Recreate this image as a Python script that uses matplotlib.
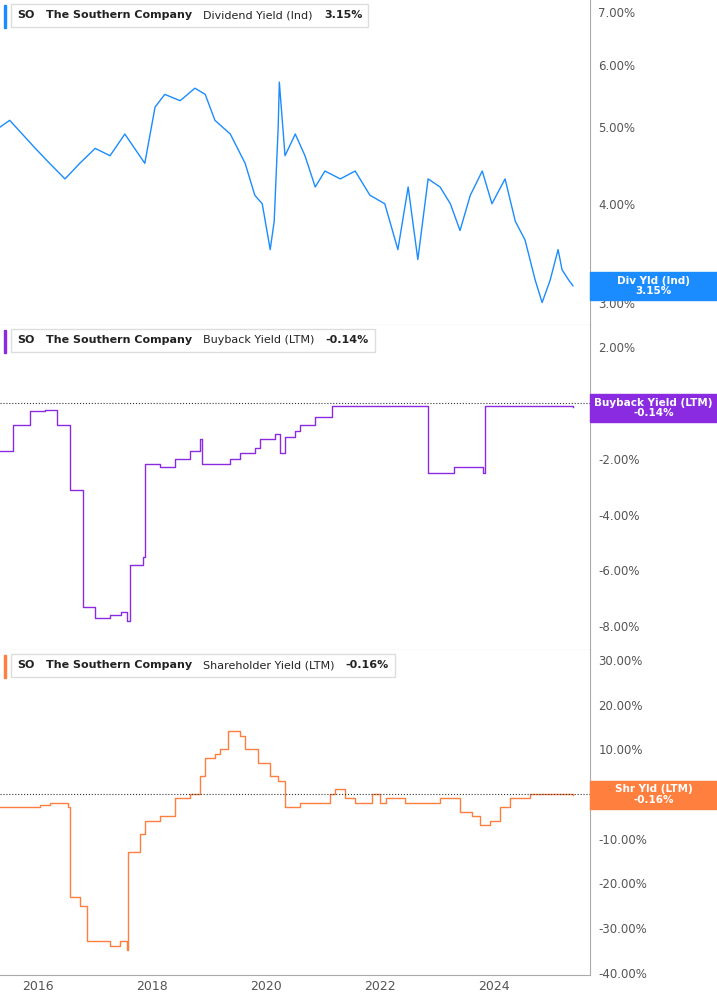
import numpy as np
import matplotlib.pyplot as plt
from matplotlib.offsetbox import TextArea, HPacker, AnchoredOffsetbox
from matplotlib.patches import Rectangle

# x positions read in decimal years
div_t = [2015.33, 2015.5, 2015.95, 2016.2, 2016.47, 2016.73, 2017.0, 2017.26, 2017.52, 2017.87,
         2018.05, 2018.22, 2018.49, 2018.75, 2018.93, 2019.1, 2019.37, 2019.63, 2019.8, 2019.93,
         2020.07, 2020.14, 2020.21, 2020.23, 2020.33, 2020.51, 2020.68, 2020.86, 2021.03, 2021.3,
         2021.56, 2021.82, 2022.08, 2022.31, 2022.49, 2022.66, 2022.84, 2023.05, 2023.23, 2023.4,
         2023.58, 2023.79, 2023.96, 2024.19, 2024.37, 2024.54, 2024.72, 2024.84, 2024.98, 2025.12,
         2025.19, 2025.31, 2025.38]
div_v = [5.0, 5.1, 4.7, 4.5, 4.3, 4.5, 4.7, 4.6, 4.9, 4.5,
         5.3, 5.5, 5.4, 5.6, 5.5, 5.1, 4.9, 4.5, 4.1, 4.0,
         3.5, 3.8, 5.0, 5.7, 4.6, 4.9, 4.6, 4.2, 4.4, 4.3,
         4.4, 4.1, 4.0, 3.5, 4.2, 3.4, 4.3, 4.2, 4.0, 3.7,
         4.1, 4.4, 4.0, 4.3, 3.8, 3.6, 3.2, 3.0, 3.2, 3.5,
         3.3, 3.2, 3.15]

bb_t = [2015.33, 2015.56, 2015.86, 2016.12, 2016.33, 2016.56, 2016.79, 2017.0, 2017.26, 2017.45,
        2017.56, 2017.61, 2017.84, 2017.87, 2018.14, 2018.4, 2018.66, 2018.84, 2018.87, 2019.37,
        2019.54, 2019.8, 2019.89, 2020.16, 2020.24, 2020.33, 2020.51, 2020.6, 2020.86, 2021.15,
        2022.84, 2023.3, 2023.8, 2023.84, 2025.38]
bb_v = [-1.7, -0.8, -0.3, -0.25, -0.8, -3.1, -7.3, -7.7, -7.6, -7.5,
        -7.8, -5.8, -5.5, -2.2, -2.3, -2.0, -1.7, -1.3, -2.2, -2.0,
        -1.8, -1.6, -1.3, -1.1, -1.8, -1.2, -1.0, -0.8, -0.5, -0.1,
        -2.5, -2.3, -2.5, -0.1, -0.14]

sh_t = [2015.33, 2016.03, 2016.21, 2016.52, 2016.56, 2016.73, 2016.86, 2017.26, 2017.43, 2017.56,
        2017.58, 2017.79, 2017.87, 2018.14, 2018.4, 2018.66, 2018.84, 2018.93, 2019.1, 2019.19,
        2019.28, 2019.33, 2019.54, 2019.63, 2019.86, 2020.07, 2020.21, 2020.33, 2020.59, 2020.94,
        2021.12, 2021.21, 2021.38, 2021.56, 2021.86, 2022.0, 2022.1, 2022.43, 2022.84, 2023.05,
        2023.4, 2023.61, 2023.75, 2023.93, 2024.1, 2024.28, 2024.45, 2024.63, 2025.38]
sh_v = [-3, -2.5, -2, -3, -23, -25, -33, -34, -33, -35,
        -13, -9, -6, -5, -1, 0, 4, 8, 9, 10,
        10, 14, 13, 10, 7, 4, 3, -3, -2, -2,
        0, 1, -1, -2, 0, -2, -1, -2, -2, -1,
        -4, -5, -7, -6, -3, -1, -1, 0, -0.16]

grey = '#555555'
fig = plt.figure(figsize=(7.17, 10.05), dpi=100)
w = 590 / 717
ax1 = fig.add_axes([0, 1 - 325 / 1005, w, 325 / 1005])
ax2 = fig.add_axes([0, 1 - 650 / 1005, w, 325 / 1005], sharex=ax1)
ax3 = fig.add_axes([0, 1 - 975 / 1005, w, 325 / 1005], sharex=ax1)

ax1.plot(div_t, div_v, color='#1a8cff', lw=1)
ax1.set_yscale('log')
ax1.set_ylim(2.81, 7.24)
ax1.set_yticks([3, 4, 5, 6, 7])
ax1.minorticks_off()

ax2.plot(bb_t, bb_v, color='#8a2be2', lw=1, drawstyle='steps-post')
ax2.set_ylim(-8.85, 2.8)
ax2.set_yticks([2, -2, -4, -6, -8])
ax2.axhline(0, color='#333333', lw=0.8, ls=':')

ax3.plot(sh_t, sh_v, color='#ff7f3f', lw=1, drawstyle='steps-post')
ax3.set_ylim(-40.5, 32.2)
ax3.set_yticks([30, 20, 10, 0, -10, -20, -30, -40])
ax3.axhline(0, color='#333333', lw=0.8, ls=':')

ax3.set_xlim(2015.33, 2025.68)
ax3.set_xticks([2016, 2018, 2020, 2022, 2024])

for ax in (ax1, ax2, ax3):
    ax.yaxis.tick_right()
    ax.yaxis.set_major_formatter(plt.FuncFormatter(lambda v, p: '%.2f%%' % v))
    ax.tick_params(axis='y', colors=grey, labelsize=8.5, length=0, pad=6)
    ax.tick_params(axis='x', colors=grey, labelsize=9, length=0)
    for s in ('left', 'top'):
        ax.spines[s].set_visible(False)
    ax.spines['right'].set_color('#aaaaaa')
    ax.spines['bottom'].set_color('#aaaaaa')
for ax in (ax1, ax2):
    plt.setp(ax.get_xticklabels(), visible=False)

titles = [(ax1, 'Dividend Yield (Ind)', '3.15%', '#1a8cff'),
          (ax2, 'Buyback Yield (LTM)', '-0.14%', '#8a2be2'),
          (ax3, 'Shareholder Yield (LTM)', '-0.16%', '#ff7f3f')]
for ax, name, val, col in titles:
    parts = [TextArea('SO', textprops=dict(fontsize=8, fontweight='bold', color='#222222')),
             TextArea('The Southern Company', textprops=dict(fontsize=8, fontweight='bold', color='#222222')),
             TextArea(name, textprops=dict(fontsize=8, color='#222222')),
             TextArea(val, textprops=dict(fontsize=8, fontweight='bold', color='#222222'))]
    box = HPacker(children=parts, pad=0, sep=8)
    anc = AnchoredOffsetbox(loc='upper left', child=box, pad=0.45, borderpad=0.3, frameon=True,
                            bbox_to_anchor=(0.012, 1.0), bbox_transform=ax.transAxes)
    anc.patch.set_edgecolor('#dddddd')
    anc.patch.set_boxstyle('square', pad=0)
    ax.add_artist(anc)
    ax.add_patch(Rectangle((0.006, 0.915), 0.005, 0.07, transform=ax.transAxes,
                           color=col, clip_on=False))

tags = [(ax1, 'Div Yld (Ind)\n3.15%', div_v[-1], '#1a8cff'),
        (ax2, 'Buyback Yield (LTM)\n-0.14%', -0.18, '#8a2be2'),
        (ax3, 'Shr Yld (LTM)\n-0.16%', sh_v[-1], '#ff7f3f')]
for ax, txt, y, col in tags:
    py = ax.transData.transform((2020, y))[1] / 1005
    h = 28 / 1005
    fig.patches.append(Rectangle((w, py - h / 2), 1 - w, h, transform=fig.transFigure,
                                 color=col, zorder=5))
    fig.text((w + 1) / 2, py, txt, ha='center', va='center', fontsize=7.5,
             fontweight='bold', color='white', linespacing=1.05, zorder=6)

fig.savefig('out.png', dpi=100)
